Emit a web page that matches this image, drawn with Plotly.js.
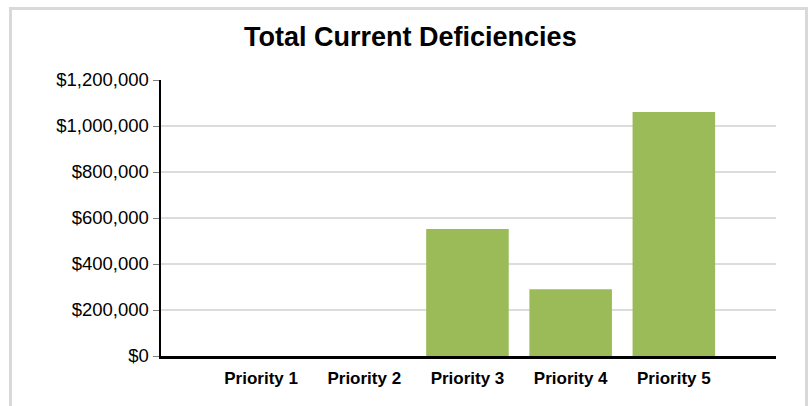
<!DOCTYPE html>
<html>
<head>
<meta charset="utf-8">
<script src="https://cdn.plot.ly/plotly-3.0.1.min.js"></script>
<style>
  html, body { margin: 0; padding: 0; background: #ffffff; overflow: hidden; }
  #frame { position: absolute; left: 9px; top: 7px; width: 793px; height: 420px;
           border: 3px solid #d9d9d9; box-sizing: content-box; }
  #chart { position: absolute; left: 0; top: 0; width: 811px; height: 406px; }
</style>
</head>
<body>
<div id="frame"></div>
<div id="chart"></div>
<script>
const categories = ["Priority 1", "Priority 2", "Priority 3", "Priority 4", "Priority 5"];
const values = [0, 0, 552000, 290000, 1061000];
const yTickValues = [0, 200000, 400000, 600000, 800000, 1000000, 1200000];
const yTickLabels = ["$0", "$200,000", "$400,000", "$600,000", "$800,000", "$1,000,000", "$1,200,000"];

const trace = {
  type: "bar",
  x: categories,
  y: values,
  marker: { color: "#9bbb59", line: { width: 0 } },
  hoverinfo: "x+y"
};

const layout = {
  width: 811,
  height: 406,
  paper_bgcolor: "rgba(0,0,0,0)",
  plot_bgcolor: "rgba(0,0,0,0)",
  margin: { l: 161, r: 35, t: 80, b: 50, pad: 0 },
  showlegend: false,
  bargap: 0.2,
  title: {
    text: "<b>Total Current Deficiencies</b>",
    font: { family: "Liberation Sans, Arial, sans-serif", size: 27, color: "#000000" },
    x: 0.506, xanchor: "center", xref: "container",
    y: 0.91, yanchor: "middle", yref: "container"
  },
  xaxis: {
    type: "category",
    range: [-0.97, 4.99],
    showgrid: false,
    showline: true,
    linecolor: "#000000",
    linewidth: 2.5,
    ticks: "",
    ticklabelstandoff: 5,
    tickfont: { family: "Liberation Sans, Arial, sans-serif", size: 17, color: "#000000", weight: "bold" },
    zeroline: false,
    fixedrange: true
  },
  yaxis: {
    range: [0, 1200000],
    tickvals: yTickValues,
    ticktext: yTickLabels,
    showgrid: true,
    gridcolor: "#dcdcdc",
    gridwidth: 2,
    showline: true,
    linecolor: "#000000",
    linewidth: 2.5,
    ticks: "outside",
    ticklen: 6,
    tickwidth: 1,
    tickcolor: "#7f7f7f",
    tickfont: { family: "Liberation Sans, Arial, sans-serif", size: 18.5, color: "#000000" },
    zeroline: false,
    fixedrange: true
  }
};

Plotly.newPlot("chart", [trace], layout, { displayModeBar: false, staticPlot: true });
</script>
</body>
</html>
